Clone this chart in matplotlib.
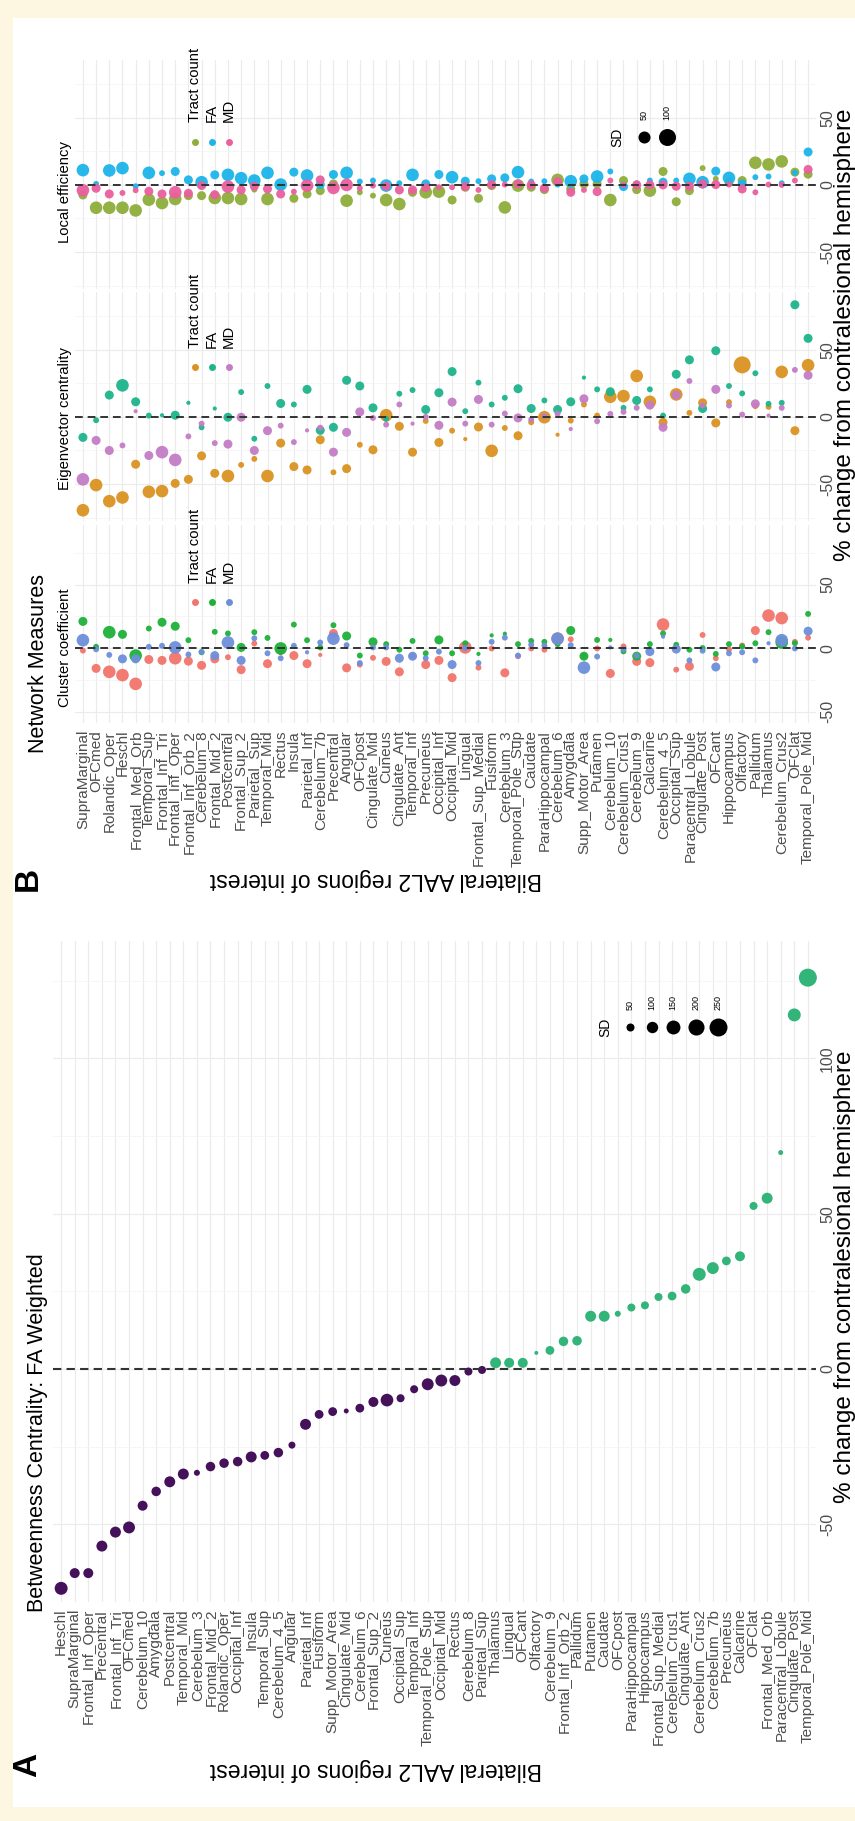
import matplotlib
matplotlib.use("Agg")
import matplotlib.pyplot as plt
from matplotlib.patches import Rectangle

W, H = 855, 1821  # output size in pixels (dpi 100)
plt.rcParams['font.family'] = ['Liberation Sans', 'DejaVu Sans']

# ---------------- panel A: betweenness centrality ----------------
regions_a = ['Heschl', 'SupraMarginal', 'Frontal_Inf_Oper', 'Precentral', 'Frontal_Inf_Tri',
             'OFCmed', 'Cerebelum_10', 'Amygdala', 'Postcentral', 'Temporal_Mid',
             'Cerebelum_3', 'Frontal_Mid_2', 'Rolandic_Oper', 'Occipital_Inf', 'Insula',
             'Temporal_Sup', 'Cerebelum_4_5', 'Angular', 'Parietal_Inf', 'Fusiform',
             'Supp_Motor_Area', 'Cingulate_Mid', 'Cerebelum_6', 'Frontal_Sup_2', 'Cuneus',
             'Occipital_Sup', 'Temporal_Inf', 'Temporal_Pole_Sup', 'Occipital_Mid', 'Rectus',
             'Cerebelum_8', 'Parietal_Sup', 'Thalamus', 'Lingual', 'OFCant',
             'Olfactory', 'Cerebelum_9', 'Frontal_Inf_Orb_2', 'Pallidum', 'Putamen',
             'Caudate', 'OFCpost', 'ParaHippocampal', 'Hippocampus', 'Frontal_Sup_Medial',
             'Cerebelum_Crus1', 'Cingulate_Ant', 'Cerebelum_Crus2', 'Cerebelum_7b', 'Precuneus',
             'Calcarine', 'OFClat', 'Frontal_Med_Orb', 'Paracentral_Lobule', 'Cingulate_Post',
             'Temporal_Pole_Mid']
change_a = [-70.6, -65.7, -65.7, -57.0, -52.5, -51.0, -44.0, -39.4, -36.3, -33.8,
            -33.4, -31.4, -30.3, -29.8, -28.3, -27.8, -26.9, -24.5, -17.8, -14.6,
            -13.7, -13.5, -12.6, -10.6, -10.0, -9.4, -6.5, -4.9, -3.7, -3.7,
            -0.8, -0.3, 2.0, 2.0, 2.0, 5.2, 6.0, 8.9, 9.1, 17.0,
            17.0, 17.8, 19.8, 20.5, 23.2, 23.5, 25.8, 30.5, 32.5, 34.8,
            36.3, 52.5, 55.0, 69.7, 114.0, 126.0]
sd_a = [130, 77, 77, 93, 93, 110, 77, 70, 93, 93,
        28, 70, 70, 70, 93, 60, 70, 38, 93, 60,
        60, 19, 60, 77, 124, 50, 50, 110, 110, 93,
        50, 50, 93, 77, 77, 12, 60, 70, 70, 93,
        93, 28, 50, 50, 50, 60, 70, 130, 110, 60,
        77, 50, 93, 19, 130, 250]
sd_legend_a = [50, 100, 150, 200, 250]

# ---------------- panel B: network measures ----------------
regions_b = ['SupraMarginal', 'OFCmed', 'Rolandic_Oper', 'Heschl', 'Frontal_Med_Orb',
             'Temporal_Sup', 'Frontal_Inf_Tri', 'Frontal_Inf_Oper', 'Frontal_Inf_Orb_2', 'Cerebelum_8',
             'Frontal_Mid_2', 'Postcentral', 'Frontal_Sup_2', 'Parietal_Sup', 'Temporal_Mid',
             'Rectus', 'Insula', 'Parietal_Inf', 'Cerebelum_7b', 'Precentral',
             'Angular', 'OFCpost', 'Cingulate_Mid', 'Cuneus', 'Cingulate_Ant',
             'Temporal_Inf', 'Precuneus', 'Occipital_Inf', 'Occipital_Mid', 'Lingual',
             'Frontal_Sup_Medial', 'Fusiform', 'Cerebelum_3', 'Temporal_Pole_Sup', 'Caudate',
             'ParaHippocampal', 'Cerebelum_6', 'Amygdala', 'Supp_Motor_Area', 'Putamen',
             'Cerebelum_10', 'Cerebelum_Crus1', 'Cerebelum_9', 'Calcarine', 'Cerebelum_4_5',
             'Occipital_Sup', 'Paracentral_Lobule', 'Cingulate_Post', 'OFCant', 'Hippocampus',
             'Olfactory', 'Pallidum', 'Thalamus', 'Cerebelum_Crus2', 'OFClat',
             'Temporal_Pole_Mid']
series_names = ['Tract count', 'FA', 'MD']
sd_legend_b = [50, 100]

# local efficiency
loc_tract = [-7.5, -17, -17, -17, -19, -11, -13.5, -10.5, -8, -8,
             -9.75, -9.75, -10.5, -3.5, -10.5, -1, -10, -6.75, -4.25, 0.75,
             -11.75, -5.5, -8, -11.25, -14.25, -5.5, -5.5, -5, -11.25, -1.75,
             -10, -0.5, -16.75, -0.5, -1.75, -3.5, 3.75, -3, 0.75, 0.75,
             -11.25, 3.25, -3.5, -4.25, 10, -12.5, -4.25, 12.5, 4.5, 2,
             3.25, 16.5, 15.25, 17.5, 9.5, 8]
loc_tract_sd = [28, 55, 55, 55, 55, 55, 55, 55, 28, 28, 55, 55, 55, 12, 55, 28, 28, 28, 28, 28,
                55, 12, 12, 55, 55, 28, 55, 55, 28, 28, 28, 28, 55, 55, 28, 28, 55, 28, 28, 28,
                55, 28, 28, 55, 28, 28, 28, 12, 12, 28, 28, 55, 55, 55, 28, 28]
loc_fa = [11, 0.75, 10.75, 12.5, -1, 9, 8.75, 10, 3.75, 2,
          7.5, 7.5, 5, 3.25, 9, 0.25, 9.5, 7, 0.25, 7.75,
          9, 2.5, 3.25, -0.5, 1.25, 7.5, 0.75, 7.75, 5.75, 2.75,
          2.75, 4.5, 5.25, 9.5, 2.5, 2.75, 0.25, 2.75, 4.5, 6.25,
          10, -1.25, 1.25, 3.25, 2, 3.25, 4.5, 2, 10.25, 5.25,
          0.75, 5.75, 6.25, 1.25, 9, 24.5]
loc_fa_sd = [55, 12, 55, 55, 12, 55, 12, 28, 28, 55, 28, 55, 55, 55, 55, 55, 28, 55, 28, 28,
             55, 12, 12, 55, 12, 55, 28, 28, 55, 28, 12, 28, 28, 55, 12, 12, 12, 55, 28, 55,
             12, 28, 12, 12, 28, 12, 55, 55, 28, 55, 28, 12, 12, 12, 12, 28]
loc_md = [-4, -2.5, -6.75, -6, -4, -4.75, -6.75, -5.5, -6.25, -0.5,
          -7.25, -1.25, -3.75, -1, -3, -6.75, -5, -0.5, 3.75, -2.25,
          0, -2.5, -0.5, -1, -3.75, -3.75, -2, -1.75, -1.75, -1.25,
          -3.75, 0.25, 0.25, 0.75, 0, -2.5, 2.5, -5.5, -3.75, -5,
          3.25, 0, 0, 0, 0, -1, -1, 0.75, 0.25, 0.25,
          -3, -5.5, 0.25, 0, 3.25, 11.5]
loc_md_sd = [55, 28, 28, 12, 12, 28, 28, 55, 28, 28, 28, 55, 28, 28, 28, 28, 12, 55, 28, 55,
             55, 12, 12, 28, 28, 28, 28, 12, 12, 28, 12, 28, 12, 28, 28, 28, 28, 28, 12, 28,
             12, 12, 28, 28, 28, 28, 28, 28, 28, 12, 28, 12, 12, 12, 12, 28]

# eigenvector centrality
eig_tract = [-69.5, -50.75, -62.75, -60, -35.25, -55.75, -55.25, -49.5, -46.5, -29,
             -42, -44, -35.75, -31.25, -44, -19.5, -37, -39.5, -17, -41.25,
             -38.5, -20.75, -24.5, 1.25, -7, -26.25, -3, -19, -10.25, -16.5,
             -7.5, -25.25, -8.25, -14, -4, -0.25, -13.25, -2.75, 9.25, 1,
             15, 15.5, 30.5, 11.25, -4, 16.75, 3, 10.5, -4.5, 11,
             38.75, 8, 7.5, 33.5, -10.25, 38.5]
eig_tract_sd = [55, 55, 55, 55, 28, 55, 55, 28, 28, 28, 28, 55, 12, 12, 55, 28, 28, 28, 28, 12,
                28, 12, 28, 55, 28, 28, 12, 28, 12, 6, 28, 55, 12, 28, 12, 55, 6, 12, 12, 12,
                55, 55, 55, 55, 28, 55, 12, 28, 28, 12, 100, 12, 12, 55, 28, 55]
eig_fa = [-15.25, -2.5, 16.25, 23.5, 11.25, 1, 1.25, 1.25, 10.5, -7.75,
          6.25, -0.25, 18.5, -16.25, 23, 10, 9.25, 20.5, -10, -7.75,
          27.25, 23, 6.75, -1.5, 17.25, 20, 5.5, 18, 33.75, 4.25,
          25.5, 9.25, 14.25, 21, 6.25, 12.25, 5.5, 11.25, 29.25, 20.5,
          18.75, 6.75, 12.25, 20.5, 1, 31.75, 42.5, 6.25, 49.25, 23,
          17.5, 32.5, 9.75, 10.5, 83.5, 58.5]
eig_fa_sd = [28, 12, 28, 55, 28, 12, 6, 28, 6, 12, 6, 28, 12, 12, 12, 28, 12, 28, 28, 28,
             28, 28, 28, 12, 12, 12, 28, 28, 28, 12, 12, 12, 12, 28, 28, 12, 28, 28, 6, 12,
             28, 12, 28, 12, 12, 28, 28, 28, 28, 12, 12, 12, 12, 12, 28, 28]
eig_md = [-46.5, -17.5, -25, -21.25, 4.25, -28.75, -26.25, -32, -14.5, -5,
          -19.5, -20.25, -0.25, -25, -10.25, -6.5, -18.75, -10, -8, -26.25,
          -11.5, 3.75, -0.75, -5.75, 9.25, -5, 0, -6.25, 11, -5,
          13, -5.75, 2.5, -0.75, -2, 0.5, 2.25, -9, 13.5, -3.25,
          2.25, 3.75, 6.75, 8.75, -7.75, 16.25, 26.75, 8.5, 20.5, 8.5,
          1.75, 9.75, 1, 6.75, 35, 31]
eig_md_sd = [55, 28, 28, 12, 6, 28, 55, 55, 12, 12, 12, 28, 28, 28, 28, 12, 12, 6, 12, 28,
             28, 28, 12, 12, 12, 6, 12, 28, 28, 12, 28, 12, 12, 28, 12, 12, 12, 6, 28, 12,
             12, 12, 12, 28, 28, 28, 12, 12, 28, 12, 12, 28, 6, 12, 12, 28]

# cluster coefficient
clu_tract = [-2, -16, -18.7, -21.3, -28.2, -9, -9.7, -8, -10.3, -13.6,
             -8.5, -7.2, -17, 3.6, -12.3, -3.3, -5.9, -12.3, -5.4, 11.5,
             -15.6, -13, -7.7, -10.5, -18.7, -6, -13, -9.7, -23.3, 0.5,
             -15.4, -0.3, -19.5, -6.4, -0.3, -1.3, 7.4, 6.9, -6, -0.3,
             -20, 1.3, -10.5, -11.5, 18.5, -17, -14.4, 10.3, -8, -1,
             2, 13.8, 25.6, 23.6, 4.9, 8.2]
clu_tract_sd = [12, 28, 55, 55, 55, 28, 28, 55, 28, 28, 28, 12, 28, 12, 28, 12, 28, 28, 6, 28,
                28, 12, 12, 28, 28, 12, 28, 28, 28, 55, 12, 12, 28, 12, 12, 12, 55, 12, 12, 12,
                28, 12, 28, 28, 55, 12, 28, 12, 12, 12, 12, 28, 55, 55, 12, 12]
clu_fa = [21, 1, 12.5, 10.8, -5.9, 15.4, 20.3, 17.2, 6.2, -3.3,
          12.8, 11.5, 0.5, 12.5, 8, -0.3, 18.5, 6.2, 0.5, 18,
          9.5, -5.9, 4.9, 3.1, -1.3, 5.6, -4.1, 6.4, -4.1, 3.8,
          -4.6, 10, 11.3, 3.1, 5.6, 4.9, 3.1, 13.8, -6.4, 6.4,
          6.4, -2.6, -6.4, 3.1, 11.5, 2.6, -1.3, 0, -4.6, 3.1,
          1.3, 3.8, 12.5, 4.4, 3.8, 26.9]
clu_fa_sd = [28, 12, 55, 28, 55, 12, 28, 28, 12, 12, 12, 12, 28, 12, 12, 55, 12, 12, 12, 12,
             28, 12, 28, 12, 12, 12, 12, 28, 12, 12, 6, 6, 6, 12, 12, 12, 12, 28, 28, 12,
             6, 12, 28, 12, 12, 12, 12, 12, 12, 12, 12, 12, 12, 55, 12, 12]
clu_md = [6.2, -1, -5.4, -8.5, -8.5, 1, 1.8, 0.5, -5.1, -3,
          -5.9, 4.4, -9.7, 7.7, -4.1, -8, 1.8, -3.3, 4.4, 7.4,
          2.3, -11.8, 0.5, 0.5, -8, -6.4, -8, -2.8, -13, 0,
          -11.8, 4.9, 8.2, -5.9, 2.6, 2, 7.4, 2.3, -15.4, -6.7,
          0.5, -1, -6, -2.8, 9, -0.8, -9.7, -2.1, -14.9, -4.1,
          -3.3, -9.7, 3.8, 6.2, -0.3, 13.3]
clu_md_sd = [55, 12, 12, 28, 28, 12, 12, 55, 12, 12, 28, 55, 28, 12, 12, 12, 12, 6, 12, 55,
             12, 12, 12, 12, 28, 28, 12, 12, 28, 12, 12, 12, 12, 12, 12, 12, 55, 12, 55, 12,
             6, 12, 12, 28, 6, 28, 12, 12, 28, 12, 12, 12, 6, 55, 12, 28]

# colours per panel (tract count, FA, MD)
loc_colors = ['#8EAD3B', '#1CB4E9', '#EA5F9E']
eig_colors = ['#DA9320', '#1DB48C', '#C47CC5']
clu_colors = ['#F2756B', '#1DB03A', '#6D8FDA']
neg_col, pos_col = '#45115A', '#33B57A'

grid_col = '#EBEBEB'
tick_col = '#4D4D4D'
k_a = 0.67   # SD -> marker area (pt^2), panel A
k_b = 1.5    # SD -> marker area (pt^2), panel B

fig = plt.figure(figsize=(W / 100, H / 100), dpi=100)
fig.patch.set_facecolor('#FDF7E1')


def px_axes(x0, y0, x1, y1, z=1):
    # axes placed by pixel box, y measured from top
    return fig.add_axes([x0 / W, 1 - y1 / H, (x1 - x0) / W, (y1 - y0) / H], zorder=z)


bg = px_axes(0, 0, W, H, z=0)
bg.set_xlim(0, W); bg.set_ylim(H, 0); bg.axis('off')
bg.add_patch(Rectangle((13, 18), W - 13, 1807 - 18, facecolor='white', lw=0))


def setup(ax, n, lo, hi, major, minor, labels=None):
    ax.patch.set_visible(False)
    ax.set_xlim(-0.6, n - 1 + 0.6)
    ax.set_ylim(lo, hi)
    for s in ax.spines.values():
        s.set_visible(False)
    ax.set_xticks(range(n))
    ax.set_yticks(major)
    ax.set_yticks(minor, minor=True)
    ax.grid(which='major', color=grid_col, lw=0.8)
    ax.grid(which='minor', axis='y', color='#F3F3F3', lw=0.5)
    ax.set_axisbelow(True)
    ax.yaxis.tick_right()
    ax.tick_params(which='both', length=0)
    ax.tick_params(axis='y', pad=3, labelsize=11.5, labelcolor=tick_col)
    ax.set_yticklabels([str(v) for v in major], rotation=90, va='center', ha='left')
    if labels is None:
        ax.set_xticklabels([])
    else:
        ax.tick_params(axis='x', pad=5)
        ax.set_xticklabels(labels, rotation=90, fontsize=11, color=tick_col,
                           va='top', ha='center')


# ---- panel A ----
axA = px_axes(53, 941, 816, 1602)
setup(axA, len(regions_a), -72.1, 137.8, [-50, 0, 50, 100], [-75, -25, 25, 75, 125], regions_a)
xa = list(range(len(regions_a)))
cols_a = [neg_col if v < 0 else pos_col for v in change_a]
axA.scatter(xa, change_a, s=[k_a * v for v in sd_a], c=cols_a, lw=0, zorder=3, clip_on=False)
axA.axhline(0, color='#333333', lw=1.5, ls=(0, (4, 2.5)), zorder=4)

# ---- panel B ----
xb = list(range(len(regions_b)))
panels_b = [
    ((60, 289), (-77.5, 93), [-75, -25, 25, 75], loc_colors,
     [(loc_tract, loc_tract_sd), (loc_fa, loc_fa_sd), (loc_md, loc_md_sd)], None),
    ((292, 521), (-77.5, 93), [-75, -25, 25, 75], eig_colors,
     [(eig_tract, eig_tract_sd), (eig_fa, eig_fa_sd), (eig_md, eig_md_sd)], None),
    ((525, 723), (-59, 96.9), [-25, 25, 75], clu_colors,
     [(clu_tract, clu_tract_sd), (clu_fa, clu_fa_sd), (clu_md, clu_md_sd)], regions_b),
]
for (y0, y1), (lo, hi), minor, cols, series, labs in panels_b:
    ax = px_axes(75, y0, 816, y1)
    setup(ax, len(regions_b), lo, hi, [-50, 0, 50], minor, labs)
    for (vals, sds), c in zip(series, cols):
        ax.scatter(xb, vals, s=[k_b * v for v in sds], c=c, lw=0, alpha=0.95, zorder=3)
    ax.axhline(0, color='#333333', lw=1.4, ls=(0, (4, 2.5)), zorder=4)

# ---- overlay: titles, labels, legends ----
ov = px_axes(0, 0, W, H, z=5)
ov.set_xlim(0, W); ov.set_ylim(H, 0); ov.axis('off'); ov.patch.set_visible(False)

ov.text(37, 1612, 'Betweenness Centrality: FA Weighted', rotation=90, fontsize=15.5,
        ha='center', va='bottom')
ov.text(39, 753, 'Network Measures', rotation=90, fontsize=15.5, ha='center', va='bottom')
ov.text(28, 1765, 'A', rotation=90, fontsize=24, fontweight='bold', ha='center', va='center')
ov.text(28, 879, 'B', rotation=90, fontsize=24, fontweight='bold', ha='center', va='center')
for yc in (1770, 880):
    ov.text(376, yc, 'Bilateral AAL2 regions of interest', rotation=180, fontsize=16.5,
            ha='center', va='center')
for yc in (1277, 335):
    ov.text(845, yc, '% change from contralesional hemisphere', rotation=90, fontsize=17.5,
            ha='center', va='center')
for yb, title in ((243, 'Local efficiency'), (490, 'Eigenvector centrality'),
                  (707, 'Cluster coefficient')):
    ov.text(65, yb, title, rotation=90, fontsize=10.7, ha='center', va='bottom')

# series legends inside each B panel
for (ydot, ytxt), cols in (((142, 122), loc_colors), ((367, 348), eig_colors),
                           ((602, 583), clu_colors)):
    for xl, name, c in zip((195, 212, 229), series_names, cols):
        ov.scatter([xl], [ydot], s=25, c=c, lw=0)
        ov.text(xl, ytxt, name, rotation=90, fontsize=10.7, ha='center', va='bottom')

# SD legend, panel A
ov.text(605, 1027, 'SD', rotation=90, fontsize=10, ha='center', va='center')
for xl, v in zip((630, 652, 673, 696, 718), sd_legend_a):
    ov.scatter([xl], [1027], s=k_a * v, c='black', lw=0)
    ov.text(xl, 1010, str(v), rotation=90, fontsize=6.5, ha='center', va='bottom')

# SD legend, panel B
ov.text(617, 137, 'SD', rotation=90, fontsize=10, ha='center', va='center')
for xl, v in zip((644, 667), sd_legend_b):
    ov.scatter([xl], [137], s=k_b * v, c='black', lw=0)
    ov.text(xl, 120, str(v), rotation=90, fontsize=6.5, ha='center', va='bottom')

fig.savefig('out.png', dpi=100, facecolor=fig.get_facecolor())
